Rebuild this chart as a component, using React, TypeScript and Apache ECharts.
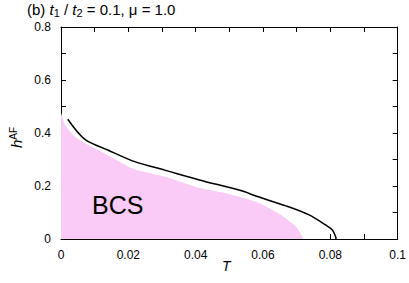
import React, { useEffect, useRef } from "react";
import * as echarts from "echarts";

const bcsT = [0, 0.0012, 0.0041, 0.0081, 0.013, 0.0189, 0.0219, 0.0308, 0.0411, 0.051, 0.0589, 0.0648, 0.0697, 0.0712, 0.0719];
const bcsH = [0.477, 0.43, 0.386, 0.355, 0.323, 0.281, 0.262, 0.235, 0.193, 0.166, 0.135, 0.095, 0.048, 0.02, 0];
const lineT = [0.002, 0.0071, 0.0139, 0.0219, 0.0308, 0.0411, 0.0539, 0.0579, 0.0668, 0.0737, 0.0786, 0.0806, 0.0816, 0.0817];
const lineH = [0.452, 0.376, 0.336, 0.292, 0.26, 0.223, 0.181, 0.162, 0.125, 0.091, 0.053, 0.034, 0.008, 0];

const FONT = "Liberation Sans";

export default function App() {
  const ref = useRef<HTMLDivElement>(null);
  useEffect(() => {
    const chart = echarts.init(ref.current!, null, { renderer: "svg" });
    const axisCommon = {
      axisLine: { show: true, onZero: false, lineStyle: { color: "#000", width: 1 } },
      axisTick: { inside: true, length: 5, lineStyle: { color: "#000" } },
      minorTick: { show: true, splitNumber: 2, length: 5, lineStyle: { color: "#000" } },
      splitLine: { show: false },
      axisLabel: { color: "#000", fontFamily: FONT, fontSize: 12 },
    };
    chart.setOption({
      animation: false,
      grid: { left: 61, right: 10, top: 27, bottom: 44 },
      xAxis: [
        { ...axisCommon, type: "value", min: 0, max: 0.1, interval: 0.02, axisLabel: { ...axisCommon.axisLabel, margin: 10, formatter: (v: number) => (v === 0 ? "0" : String(+v.toFixed(2))) } },
        { ...axisCommon, type: "value", position: "top", min: 0, max: 0.1, interval: 0.02, axisLabel: { show: false } },
      ],
      yAxis: [
        { ...axisCommon, type: "value", min: 0, max: 0.8, interval: 0.2, axisLabel: { ...axisCommon.axisLabel, margin: 10, formatter: (v: number) => (v === 0 ? "0" : String(+v.toFixed(1))) } },
        { ...axisCommon, type: "value", position: "right", min: 0, max: 0.8, interval: 0.2, axisLabel: { show: false } },
      ],
      series: [
        {
          type: "line",
          data: bcsT.map((t, i) => [t, bcsH[i]]),
          symbol: "none",
          smooth: 0.2,
          lineStyle: { width: 0 },
          areaStyle: { color: "#f9cbf6", opacity: 1 },
          z: 1,
        },
        {
          type: "line",
          data: lineT.map((t, i) => [t, lineH[i]]),
          symbol: "none",
          smooth: 0.3,
          lineStyle: { color: "#000", width: 1.5 },
          z: 2,
        },
      ],
      graphic: [
        {
          type: "text",
          left: 27,
          top: 2,
          z: 100,
          style: {
            text: "(b) {i|t}{s|1} / {i|t}{s|2} = 0.1, μ = 1.0",
            fontFamily: FONT,
            fontSize: 15,
            fill: "#000",
            rich: {
              i: { fontStyle: "italic", fontFamily: FONT, fontSize: 15 },
              s: { fontFamily: FONT, fontSize: 11, padding: [6, 0, 0, 0] },
            },
          },
        },
        {
          type: "text",
          x: 92,
          y: 192,
          z: 100,
          style: { text: "BCS", fontFamily: FONT, fontSize: 25, fill: "#000" },
        },
        {
          type: "text",
          x: 222,
          y: 259,
          z: 100,
          style: { text: "T", fontFamily: FONT, fontStyle: "italic", fontSize: 14, fill: "#000" },
        },
        {
          type: "text",
          x: 8,
          y: 148,
          z: 100,
          rotation: Math.PI / 2,
          style: {
            text: "{i|h}{p|AF}",
            fontFamily: FONT,
            fill: "#000",
            rich: {
              i: { fontStyle: "italic", fontFamily: FONT, fontSize: 15 },
              p: { fontFamily: FONT, fontSize: 10, padding: [0, 0, 7, 0] },
            },
          },
        },
      ],
    });
    return () => chart.dispose();
  }, []);
  return <div ref={ref} style={{ width: 409, height: 283, position: "absolute", left: 0, top: 0, background: "#fff" }} />;
}
